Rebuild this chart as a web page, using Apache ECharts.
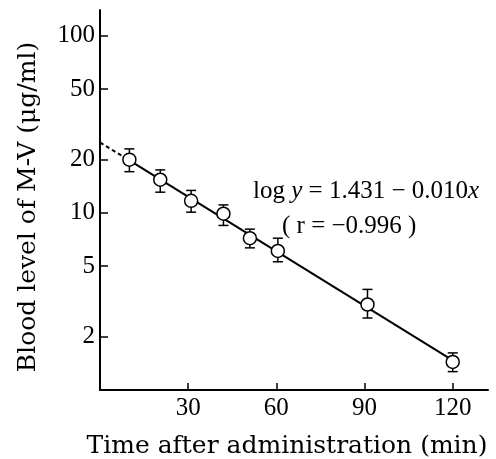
<!DOCTYPE html>
<html>
<head>
<meta charset="utf-8">
<script src="https://cdn.jsdelivr.net/npm/echarts@6/dist/echarts.min.js"></script>
<style>
  html, body { margin: 0; padding: 0; background: #fff; }
  #chart { width: 496px; height: 459px; }
</style>
</head>
<body>
<div id="chart"></div>
<script>
// data
var timeMin = [10, 20.5, 31, 42, 51, 60.5, 91, 120];
var level = [20, 15.4, 11.7, 9.9, 7.2, 6.1, 3.04, 1.44];
var levelHigh = [23, 17.5, 13.4, 11.1, 8.1, 7.2, 3.7, 1.62];
var levelLow = [17.1, 13.1, 10.1, 8.5, 6.35, 5.3, 2.55, 1.27];
var fitSolidX = [10, 120];
var fitSolidY = [19.8, 1.47];
var fitDashX = [0, 10];
var fitDashY = [25, 19.8];
var xTicks = [30, 60, 90, 120];
var yTicks = [2, 5, 10, 20, 50, 100];

var serif = 'Liberation Serif';
var wideSerif = 'DejaVu Serif';

var chart = echarts.init(document.getElementById('chart'));

var pairs = function (xs, ys) {
  return xs.map(function (x, i) { return [x, ys[i]]; });
};

chart.setOption({
  animation: false,
  backgroundColor: '#fff',
  grid: {
    left: 100,
    right: 8,
    top: 10,
    bottom: 69
  },
  xAxis: {
    type: 'value',
    min: 0,
    max: 132,
    axisLine: { show: true, lineStyle: { color: '#000', width: 2 } },
    axisTick: {                    // ticks point inward
      show: true,
      inside: true,
      length: 7,
      customValues: xTicks,
      lineStyle: { color: '#000', width: 1.5 }
    },
    axisLabel: {
      margin: 6,
      customValues: xTicks,
      fontFamily: serif,
      fontSize: 25,
      color: '#000'
    },
    splitLine: { show: false }
  },
  yAxis: {
    type: 'log',
    logBase: 10,
    min: 1,
    max: 140,
    axisLine: { show: true, lineStyle: { color: '#000', width: 2 } },
    axisTick: {
      show: true,
      inside: true,
      length: 8,
      customValues: yTicks,
      lineStyle: { color: '#000', width: 1.5 }
    },
    minorTick: { show: false },
    axisLabel: {
      margin: 5,
      customValues: yTicks,
      fontFamily: serif,
      fontSize: 25,
      color: '#000'
    },
    splitLine: { show: false }
  },
  graphic: [
    {
      type: 'text',
      x: 28,
      y: 207,
      rotation: Math.PI / 2,
      style: {
        text: 'Blood level of M-V (μg/ml)',
        font: '25px "' + wideSerif + '"',
        fill: '#000',
        align: 'center',
        verticalAlign: 'middle'
      }
    },
    {
      type: 'text',
      x: 287,
      y: 446,
      style: {
        text: 'Time after administration (min)',
        font: '25px "' + wideSerif + '"',
        fill: '#000',
        align: 'center',
        verticalAlign: 'middle'
      }
    },
    {
      type: 'text',
      x: 253,
      y: 191,
      style: {
        rich: {
          n: { fontFamily: serif, fontSize: 25, color: '#000' },
          i: { fontFamily: serif, fontSize: 25, fontStyle: 'italic', color: '#000' }
        },
        text: '{n|log }{i|y}{n| = 1.431 − 0.010}{i|x}',
        verticalAlign: 'middle'
      }
    },
    {
      type: 'text',
      x: 282,
      y: 226,
      style: {
        text: '( r = −0.996 )',
        font: '25px "' + serif + '"',
        fill: '#000',
        verticalAlign: 'middle'
      }
    }
  ],
  series: [
    {
      type: 'line',
      data: pairs(fitDashX, fitDashY),
      symbol: 'none',
      lineStyle: { color: '#000', width: 2, type: [4, 3] },
      z: 2
    },
    {
      type: 'line',
      data: pairs(fitSolidX, fitSolidY),
      symbol: 'none',
      lineStyle: { color: '#000', width: 2 },
      z: 2
    },
    {
      type: 'custom',
      data: timeMin.map(function (t, i) { return [t, levelHigh[i], levelLow[i]]; }),
      encode: { x: 0, y: [1, 2] },
      z: 3,
      renderItem: function (params, api) {
        var x = api.value(0);
        var hi = api.coord([x, api.value(1)]);
        var lo = api.coord([x, api.value(2)]);
        var w = 5;
        var st = { stroke: '#000', lineWidth: 1.5, fill: null };
        return {
          type: 'group',
          children: [
            { type: 'line', shape: { x1: hi[0], y1: hi[1], x2: lo[0], y2: lo[1] }, style: st },
            { type: 'line', shape: { x1: hi[0] - w, y1: hi[1], x2: hi[0] + w, y2: hi[1] }, style: st },
            { type: 'line', shape: { x1: lo[0] - w, y1: lo[1], x2: lo[0] + w, y2: lo[1] }, style: st }
          ]
        };
      }
    },
    {
      type: 'scatter',
      data: pairs(timeMin, level),
      symbol: 'circle',
      symbolSize: 13,
      itemStyle: { color: '#fff', opacity: 1, borderColor: '#000', borderWidth: 1.5 },
      z: 4
    }
  ]
});
</script>
</body>
</html>
